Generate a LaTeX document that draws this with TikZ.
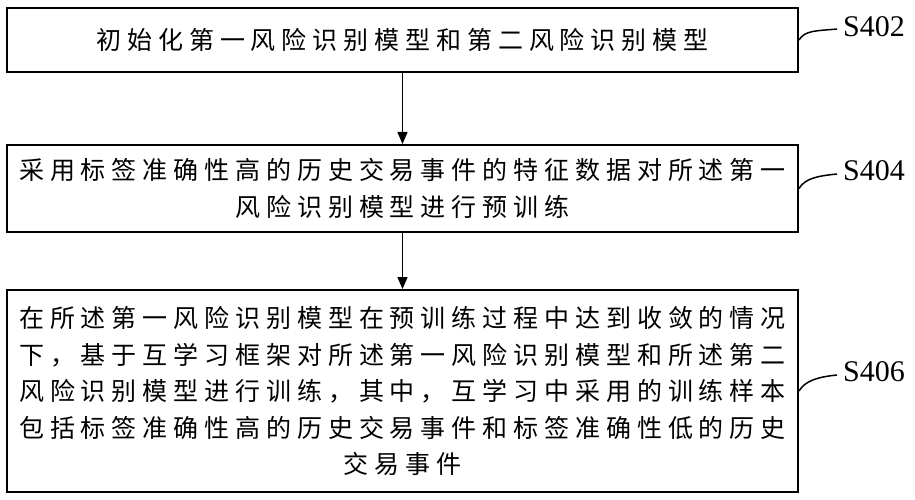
\documentclass[tikz,border=0pt]{standalone}
\usepackage{fontspec}
\usetikzlibrary{arrows.meta}
\newfontfamily\cjk[LetterSpace=23.6]{Noto Sans CJK SC}
\newfontfamily\labfont{Liberation Serif}
\begin{document}
\begin{tikzpicture}[x=1pt,y=-1pt,
  stepbox/.style={draw=black,line width=2pt,inner sep=0pt,minimum width=791pt,
    font=\cjk\fontsize{25}{36.5}\selectfont,align=center},
  arr/.style={line width=1.5pt,-{Triangle[length=12pt,width=10pt]}},
  lbl/.style={anchor=west,inner sep=0pt,font=\labfont\fontsize{30}{32}\selectfont},
  wig/.style={line width=1.5pt}]
\useasboundingbox (0,0) rectangle (915,500);
\node[stepbox,minimum height=64pt] (b1) at (402.5,40) {初始化第一风险识别模型和第二风险识别模型};
\node[stepbox,minimum height=87pt] (b2) at (402.5,188.5) {采用标签准确性高的历史交易事件的特征数据对所述第一\\风险识别模型进行预训练};
\node[stepbox,minimum height=202pt] (b3) at (402.5,391) {在所述第一风险识别模型在预训练过程中达到收敛的情况\\下，基于互学习框架对所述第一风险识别模型和所述第二\\风险识别模型进行训练，其中，互学习中采用的训练样本\\包括标签准确性高的历史交易事件和标签准确性低的历史\\交易事件};
\draw[arr] (b1.south) -- (b2.north);
\draw[arr] (b2.south) -- (b3.north);
\coordinate (c1) at (837,29);
\coordinate (c2) at (837,174);
\coordinate (c3) at (837,375);
\node[lbl] (s1) at (843,27) {S402};
\node[lbl] (s2) at (843,171) {S404};
\node[lbl] (s3) at (843,372) {S406};
\draw[wig] (b1.east) .. controls +(6,-10) and +(-20,2) .. (c1);
\draw[wig] (b2.east) .. controls +(6,-10) and +(-20,2) .. (c2);
\draw[wig] (b3.east) .. controls +(6,-10) and +(-20,2) .. (c3);
\end{tikzpicture}
\end{document}
